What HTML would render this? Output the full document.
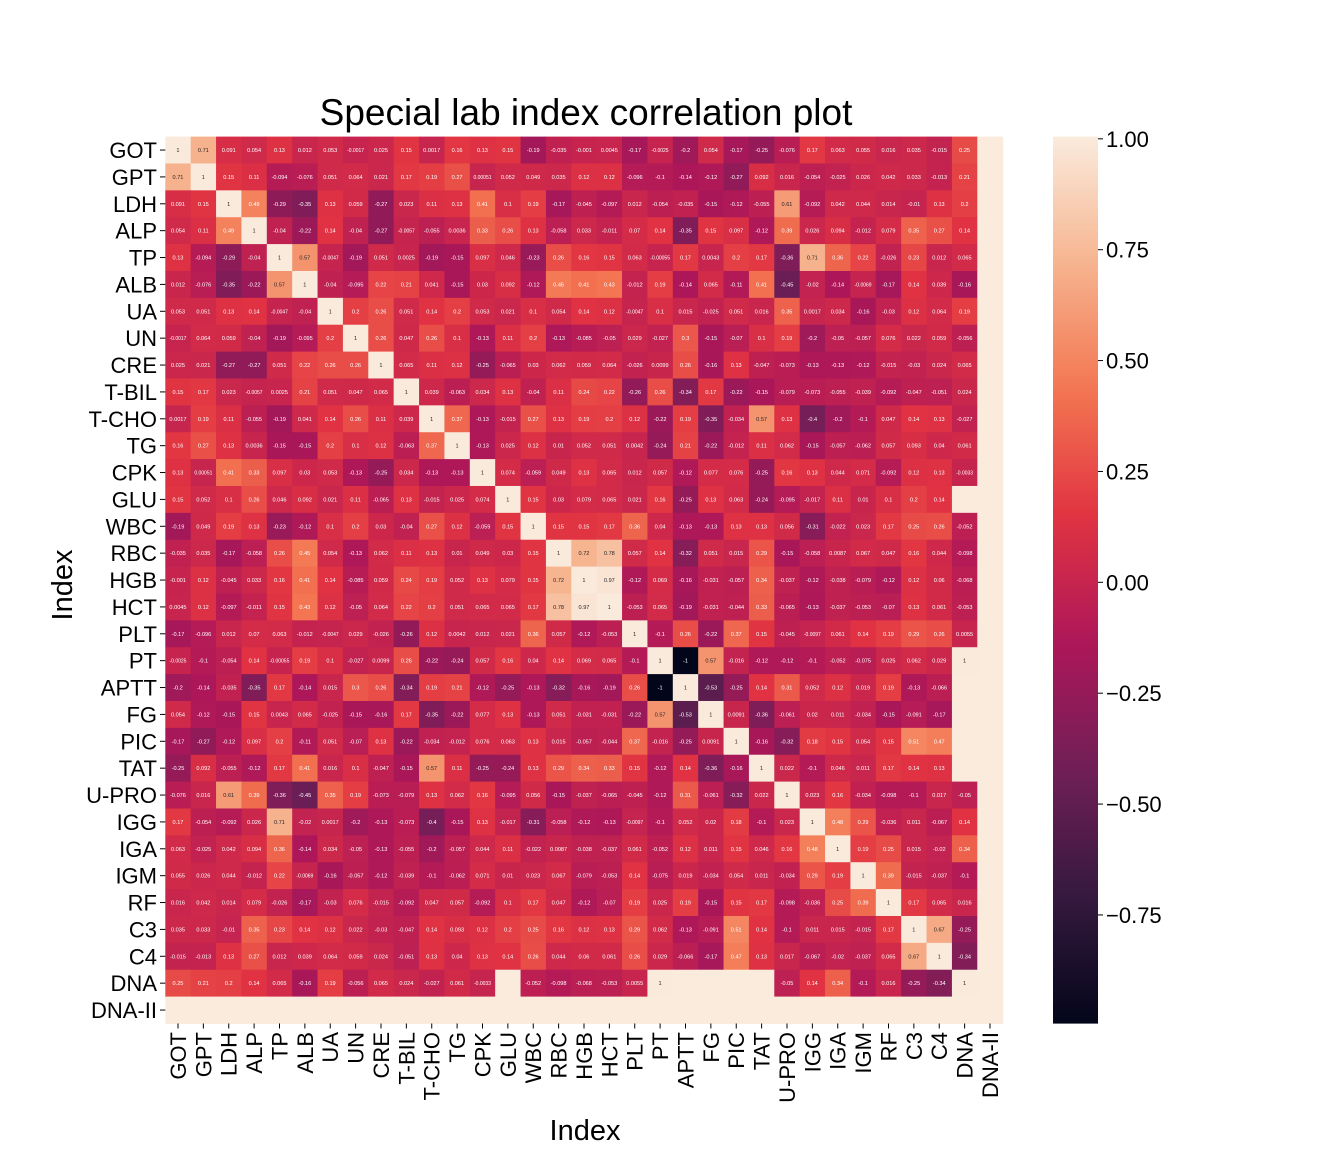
<!DOCTYPE html>
<html><head><meta charset="utf-8"><style>
body{margin:0;background:#fff;}
svg{display:block;font-family:"Liberation Sans",Arial,sans-serif;}
</style></head><body>
<svg id="chart" width="1344" height="1152" xmlns="http://www.w3.org/2000/svg">
<rect width="1344" height="1152" fill="#fff"/>
<text x="586" y="125" font-size="37" text-anchor="middle" fill="#000">Special lab index correlation plot</text>
<g id="cells"></g>
<g id="ylabels"></g>
<g id="xlabels"></g>
<text x="0" y="0" transform="translate(72,585) rotate(-90)" font-size="29" text-anchor="middle">Index</text>
<text x="585" y="1140" font-size="29" text-anchor="middle">Index</text>
<defs><linearGradient id="cbgrad" x1="0" y1="1" x2="0" y2="0"></linearGradient></defs>
<rect x="1053" y="136.6" width="45" height="887" fill="url(#cbgrad)"/>
<g id="cbticks"></g>
</svg>
<script>
const labels = ["GOT","GPT","LDH","ALP","TP","ALB","UA","UN","CRE","T-BIL","T-CHO","TG","CPK","GLU","WBC","RBC","HGB","HCT","PLT","PT","APTT","FG","PIC","TAT","U-PRO","IGG","IGA","IGM","RF","C3","C4","DNA","DNA-II"];
const N = null;
const lowerRows = [
[1],
[.71,1],
[.091,.15,1],
[.054,.11,.49,1],
[.13,-.094,-.29,-.04,1],
[.012,-.076,-.35,-.22,.57,1],
[.053,.051,.13,.14,-.0047,-.04,1],
[-.0017,.064,.059,-.04,-.19,-.095,.2,1],
[.025,.021,-.27,-.27,.051,.22,.26,.26,1],
[.15,.17,.023,-.0057,.0025,.21,.051,.047,.065,1],
[.0017,.19,.11,-.055,-.19,.041,.14,.26,.11,.039,1],
[.16,.27,.13,.0036,-.15,-.15,.2,.1,.12,-.063,.37,1],
[.13,.00051,.41,.33,.097,.03,.053,-.13,-.25,.034,-.13,-.13,1],
[.15,.052,.1,.26,.046,.092,.021,.11,-.065,.13,-.015,.025,.074,1],
[-.19,.049,.19,.13,-.23,-.12,.1,.2,.03,-.04,.27,.12,-.059,.15,1],
[-.035,.035,-.17,-.058,.26,.45,.054,-.13,.062,.11,.13,.01,.049,.03,.15,1],
[-.001,.12,-.045,.033,.16,.41,.14,-.085,.059,.24,.19,.052,.13,.079,.15,.72,1],
[.0045,.12,-.097,-.011,.15,.43,.12,-.05,.064,.22,.2,.051,.065,.065,.17,.78,.97,1],
[-.17,-.096,.012,.07,.063,-.012,-.0047,.029,-.026,-.26,.12,.0042,.012,.021,.36,.057,-.12,-.053,1],
[-.0025,-.1,-.054,.14,-.00055,.19,.1,-.027,.0099,.26,-.22,-.24,.057,.16,.04,.14,.069,.065,-.1,1],
[-.2,-.14,-.035,-.35,.17,-.14,.015,.3,.26,-.34,.19,.21,-.12,-.25,-.13,-.32,-.16,-.19,.26,-1,1],
[.054,-.12,-.15,.15,.0043,.065,-.025,-.15,-.16,.17,-.35,-.22,.077,.13,-.13,.051,-.031,-.031,-.22,.57,-.53,1],
[-.17,-.27,-.12,.097,.2,-.11,.051,-.07,.13,-.22,-.034,-.012,.076,.063,.13,.015,-.057,-.044,.37,-.016,-.25,.0091,1],
[-.25,.092,-.055,-.12,.17,.41,.016,.1,-.047,-.15,.57,.11,-.25,-.24,.13,.29,.34,.33,.15,-.12,.14,-.36,-.16,1],
[-.076,.016,.61,.39,-.36,-.45,.35,.19,-.073,-.079,.13,.062,.16,-.095,.056,-.15,-.037,-.065,-.045,-.12,.31,-.061,-.32,.022,1],
[.17,-.054,-.092,.026,.71,-.02,.0017,-.2,-.13,-.073,-.4,-.15,.13,-.017,-.31,-.058,-.12,-.13,-.0097,-.1,.052,.02,.18,-.1,.023,1],
[.063,-.025,.042,.094,.36,-.14,.034,-.05,-.13,-.055,-.2,-.057,.044,.11,-.022,.0087,-.038,-.037,.061,-.052,.12,.011,.15,.046,.16,.48,1],
[.055,.026,.044,-.012,.22,-.0069,-.16,-.057,-.12,-.039,-.1,-.062,.071,.01,.023,.067,-.079,-.053,.14,-.075,.019,-.034,.054,.011,-.034,.29,.19,1],
[.016,.042,.014,.079,-.026,-.17,-.03,.076,-.015,-.092,.047,.057,-.092,.1,.17,.047,-.12,-.07,.19,.025,.19,-.15,.15,.17,-.098,-.036,.25,.39,1],
[.035,.033,-.01,.35,.23,.14,.12,.022,-.03,-.047,.14,.093,.12,.2,.25,.16,.12,.13,.29,.062,-.13,-.091,.51,.14,-.1,.011,.015,-.015,.17,1],
[-.015,-.013,.13,.27,.012,.039,.064,.059,.024,-.051,.13,.04,.13,.14,.26,.044,.06,.061,.26,.029,-.066,-.17,.47,.13,.017,-.067,-.02,-.037,.065,.67,1],
[.25,.21,.2,.14,.065,-.16,.19,-.056,.065,.024,-.027,.061,-.0033,N,-.052,-.098,-.068,-.053,.0055,1,N,N,N,N,-.05,.14,.34,-.1,.016,-.25,-.34,1],
[N,N,N,N,N,N,N,N,N,N,N,N,N,N,N,N,N,N,N,N,N,N,N,N,N,N,N,N,N,N,N,N,N]
];
const cbTicks = [1.00,0.75,0.50,0.25,0.00,-0.25,-0.50,-0.75];
const cbTickLabels = ["1.00","0.75","0.50","0.25","0.00","\u22120.25","\u22120.50","\u22120.75"];

const VMIN=-0.995, VMAX=1.005;
const X0=165.3, Y0=136.6, CW=25.375, CH=26.875, n=labels.length;
const stops=[[0,"#03051a"],[1/7,"#35193e"],[2/7,"#701f57"],[3/7,"#ad1759"],[4/7,"#e13342"],[5/7,"#f37651"],[6/7,"#f6b48f"],[1,"#faebdd"]];
function hex(h){return [1,3,5].map(i=>parseInt(h.substr(i,2),16));}
function cmap(t){t=Math.max(0,Math.min(1,t));for(let i=1;i<stops.length;i++){if(t<=stops[i][0]){const a=stops[i-1],b=stops[i];const f=(t-a[0])/(b[0]-a[0]);const ca=hex(a[1]),cb=hex(b[1]);return "rgb("+ca.map((v,k)=>Math.round(v+(cb[k]-v)*f)).join(",")+")";}}return stops[stops.length-1][1];}
function xs(j){return X0+j*CW;}
function ys(i){return Y0+i*CH;}
function norm(v){return (v-VMIN)/(VMAX-VMIN);}
function getv(i,j){return i>=j?lowerRows[i][j]:lowerRows[j][i];}
function fmt(v){let s=String(v);if(s.startsWith("-0."))s="-0."+s.slice(3);return s;}
const NS="http://www.w3.org/2000/svg";
const cells=document.getElementById("cells");
for(let i=0;i<n;i++)for(let j=0;j<n;j++){
  const v=getv(i,j);
  const r=document.createElementNS(NS,"rect");
  r.setAttribute("x",xs(j));r.setAttribute("y",ys(i));
  r.setAttribute("width",CW+0.5);r.setAttribute("height",CH+0.5);
  r.setAttribute("fill",v===null?"#faebdd":cmap(norm(v)));
  
  
  cells.appendChild(r);
  if(v!==null){
    const t=document.createElementNS(NS,"text");
    t.setAttribute("x",xs(j)+CW/2);t.setAttribute("y",ys(i)+CH/2+2);
    t.setAttribute("font-size",String(v).length>6?"5":"5.6");
    t.setAttribute("text-anchor","middle");
    t.setAttribute("fill",v>0.55?"#262626":"#ffffff");
    t.textContent=fmt(v);
    
    
    cells.appendChild(t);
  }
}
const yl=document.getElementById("ylabels"), xl=document.getElementById("xlabels");
labels.forEach((l,i)=>{
  const t=document.createElementNS(NS,"text");
  t.setAttribute("x",157);t.setAttribute("y",ys(i)+CH/2+8);
  t.setAttribute("font-size","22");t.setAttribute("text-anchor","end");
  t.textContent=l;
  
  
  yl.appendChild(t);
  const k=document.createElementNS(NS,"line");
  k.setAttribute("x1",160);k.setAttribute("x2",165.3);k.setAttribute("y1",ys(i)+CH/2);k.setAttribute("y2",ys(i)+CH/2);k.setAttribute("stroke","#000");
  
  
  yl.appendChild(k);
  const u=document.createElementNS(NS,"text");
  const cx=xs(i)+CW/2+8;
  u.setAttribute("transform","translate("+cx+",1032) rotate(-90)");
  u.setAttribute("font-size","22");u.setAttribute("text-anchor","end");
  u.textContent=l;
  
  
  xl.appendChild(u);
  const kx=document.createElementNS(NS,"line");
  kx.setAttribute("x1",xs(i)+CW/2);kx.setAttribute("x2",xs(i)+CW/2);kx.setAttribute("y1",1023.5);kx.setAttribute("y2",1028.5);kx.setAttribute("stroke","#000");
  
  
  xl.appendChild(kx);
});
const g=document.getElementById("cbgrad");
for(let s=0;s<=40;s++){const st=document.createElementNS(NS,"stop");st.setAttribute("offset",s/40);st.setAttribute("stop-color",cmap(s/40));g.appendChild(st);}
const cbt=document.getElementById("cbticks");
cbTicks.forEach((v,i)=>{
  const y=136.6+(VMAX-v)/(VMAX-VMIN)*887;
  const k=document.createElementNS(NS,"line");
  k.setAttribute("x1",1098);k.setAttribute("x2",1103);k.setAttribute("y1",y);k.setAttribute("y2",y);k.setAttribute("stroke","#000");
  
  
  cbt.appendChild(k);
  const t=document.createElementNS(NS,"text");
  t.setAttribute("x",1106);t.setAttribute("y",y+8);t.setAttribute("font-size","22");
  t.textContent=cbTickLabels[i];
  
  
  cbt.appendChild(t);
});
</script>
</body></html>
